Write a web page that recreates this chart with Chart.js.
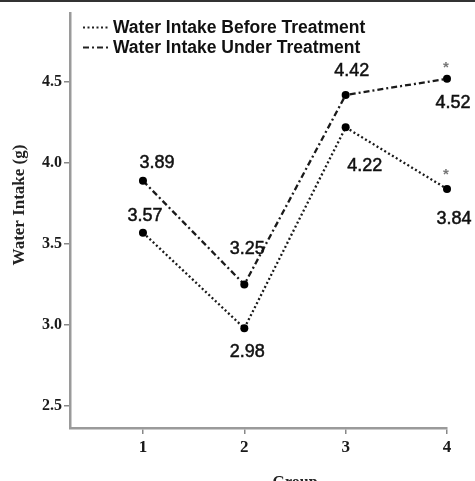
<!DOCTYPE html>
<html>
<head>
<meta charset="utf-8">
<script src="https://cdn.jsdelivr.net/npm/chart.js@4.4.1/dist/chart.umd.min.js"></script>
<style>
  html, body { margin: 0; padding: 0; background: #fff; }
  #wrap { width: 475px; height: 481px; position: relative; overflow: hidden; }
  canvas { display: block; }
</style>
</head>
<body>
<div id="wrap"><canvas id="c" width="475" height="481"></canvas></div>
<script>
// ---- data ----
const groups = [1, 2, 3, 4];
const beforeTreatment = [3.57, 2.98, 4.22, 3.84];
const underTreatment = [3.89, 3.25, 4.42, 4.52];
const significant = [false, false, false, true];
const seriesNames = ['Water Intake Before Treatment', 'Water Intake Under Treatment'];
const xTickValues = [1, 2, 3, 4];
const yTickValues = [2.5, 3.0, 3.5, 4.0, 4.5];
const xTitle = 'Group';
const yTitle = 'Water Intake (g)';

// ---- style (label offsets relative to points) ----
const labelOffsets = [
  [[2, -17], [3, 24], [19, 39], [7, 30]],
  [[14, -18], [3, -35], [6, -24], [6, 24]]
];
const starOffsets = [[-1, -18], [-1, -15]];
const dashes = [[2, 2.5], [6, 3, 2, 3]];

const SANS = "'Liberation Sans', Arial, sans-serif";
const SERIF = "'Liberation Serif', 'Times New Roman', serif";

const overlay = {
  id: 'overlay',
  beforeDraw(chart) {
    const ctx = chart.ctx;
    ctx.save();
    ctx.fillStyle = '#fff';
    ctx.fillRect(0, 0, chart.width, chart.height);
    ctx.fillStyle = '#333';
    ctx.fillRect(0, 0, chart.width, 2);
    ctx.restore();
  },
  afterDraw(chart) {
    const ctx = chart.ctx;
    ctx.save();
    ctx.textAlign = 'center';
    chart.data.datasets.forEach((ds, i) => {
      const meta = chart.getDatasetMeta(i);
      meta.data.forEach((pt, j) => {
        const off = labelOffsets[i][j];
        ctx.fillStyle = '#111';
        ctx.strokeStyle = '#111';
        ctx.lineWidth = 0.5;
        ctx.font = '18px ' + SANS;
        ctx.textBaseline = 'middle';
        const t = ds.data[j].y.toFixed(2);
        ctx.fillText(t, pt.x + off[0], pt.y + off[1]);
        ctx.strokeText(t, pt.x + off[0], pt.y + off[1]);
        if (significant[j]) {
          const so = starOffsets[i];
          ctx.fillStyle = '#777';
          ctx.font = 'bold 15px ' + SANS;
          ctx.textBaseline = 'alphabetic';
          ctx.fillText('*', pt.x + so[0], pt.y + so[1] + 8.5);
        }
      });
    });
    // legend
    ctx.textAlign = 'left';
    ctx.textBaseline = 'middle';
    chart.data.datasets.forEach((ds, i) => {
      const y = 27.5 + i * 20;
      ctx.strokeStyle = '#222';
      ctx.lineWidth = 2.2;
      ctx.setLineDash(dashes[i]);
      ctx.beginPath();
      ctx.moveTo(83, y);
      ctx.lineTo(109, y);
      ctx.stroke();
      ctx.setLineDash([]);
      ctx.fillStyle = '#111';
      ctx.font = 'bold 17.5px ' + SANS;
      ctx.fillText(ds.label, 113, y + 1);
    });
    // axis titles
    ctx.fillStyle = '#222';
    ctx.font = 'bold 17px ' + SERIF;
    ctx.textAlign = 'center';
    ctx.textBaseline = 'middle';
    ctx.save();
    ctx.translate(20, 205);
    ctx.rotate(-Math.PI / 2);
    ctx.fillText(yTitle, 0, 0);
    ctx.restore();
    ctx.font = 'bold 16px ' + SERIF;
    ctx.fillText(xTitle, 295, 483);
    ctx.restore();
  }
};

const mk = (vals) => groups.map((g, i) => ({ x: g, y: vals[i] }));

new Chart(document.getElementById('c'), {
  type: 'line',
  data: {
    datasets: [
      {
        label: seriesNames[0], data: mk(beforeTreatment),
        borderColor: '#1a1a1a', borderWidth: 2.3, borderDash: dashes[0],
        pointRadius: 4, pointBackgroundColor: '#000', pointBorderWidth: 0,
        tension: 0, clip: false, fill: false
      },
      {
        label: seriesNames[1], data: mk(underTreatment),
        borderColor: '#1a1a1a', borderWidth: 2.3, borderDash: dashes[1],
        pointRadius: 4, pointBackgroundColor: '#000', pointBorderWidth: 0,
        tension: 0, clip: false, fill: false
      }
    ]
  },
  options: {
    responsive: false,
    animation: false,
    devicePixelRatio: 1,
    layout: { padding: { top: 13, right: 28, left: 0, bottom: 0 } },
    plugins: { legend: { display: false }, tooltip: { enabled: false }, title: { display: false } },
    scales: {
      x: {
        type: 'linear', min: 0.28, max: 4,
        afterBuildTicks: (s) => { s.ticks = xTickValues.map(v => ({ value: v })); },
        afterFit: (s) => { s.height = 53; },
        ticks: { color: '#1a1a1a', font: { family: SERIF, size: 17, weight: 'bold' }, padding: 3, callback: (v) => String(v), maxRotation: 0 },
        grid: { drawOnChartArea: false, drawTicks: true, tickLength: 6, tickColor: '#888', lineWidth: 1.5 },
        border: { display: true, color: '#9a9a9a', width: 2.5 }
      },
      y: {
        type: 'linear', min: 2.364, max: 4.926,
        afterBuildTicks: (s) => { s.ticks = yTickValues.map(v => ({ value: v })); },
        afterFit: (s) => { s.width = 70; },
        ticks: { color: '#1a1a1a', font: { family: SERIF, size: 16, weight: 'bold' }, padding: 2, callback: (v) => Number(v).toFixed(1) },
        grid: { drawOnChartArea: false, drawTicks: true, tickLength: 6, tickColor: '#888', lineWidth: 1.5 },
        border: { display: true, color: '#9a9a9a', width: 2.5 }
      }
    }
  },
  plugins: [overlay]
});
</script>
</body>
</html>
